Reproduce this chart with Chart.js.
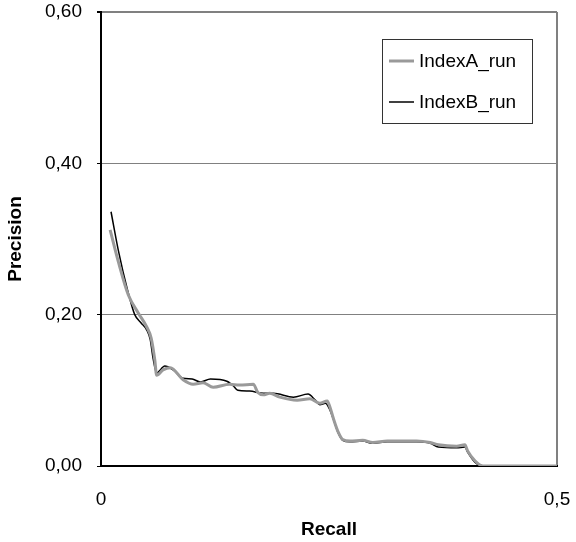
<!DOCTYPE html>
<html>
<head>
<meta charset="utf-8">
<script src="https://cdn.jsdelivr.net/npm/chart.js@4/dist/chart.umd.min.js"></script>
<style>
  html, body { margin: 0; padding: 0; background: #fff; }
  #wrap { width: 576px; height: 542px; }
</style>
</head>
<body>
<div id="wrap"><canvas id="prChart" width="576" height="542"></canvas></div>
<script>
// Precision/recall curves for the two runs
const seriesNames = ["IndexA_run", "IndexB_run"];

const recallA = [0.010, 0.019, 0.030, 0.041, 0.050, 0.055, 0.059, 0.061, 0.068, 0.076,
  0.090, 0.101, 0.112, 0.123, 0.141, 0.152, 0.167, 0.172, 0.178, 0.185, 0.196, 0.215,
  0.229, 0.240, 0.248, 0.251, 0.255, 0.260, 0.265, 0.273, 0.287, 0.298, 0.314, 0.328,
  0.346, 0.361, 0.370, 0.390, 0.399, 0.402, 0.410, 0.419, 0.440, 0.470, 0.500];
const precisionA = [0.312, 0.270, 0.226, 0.202, 0.184, 0.169, 0.140, 0.120, 0.127, 0.130,
  0.114, 0.108, 0.110, 0.104, 0.108, 0.107, 0.108, 0.097, 0.094, 0.096, 0.091, 0.087,
  0.089, 0.083, 0.086, 0.078, 0.062, 0.045, 0.035, 0.033, 0.034, 0.031, 0.033, 0.033,
  0.033, 0.031, 0.028, 0.026, 0.028, 0.020, 0.007, 0.000, 0.000, 0.000, 0.000];

const recallB = [0.011, 0.019, 0.029, 0.037, 0.044, 0.050, 0.054, 0.057, 0.061, 0.070,
  0.079, 0.090, 0.100, 0.109, 0.120, 0.138, 0.145, 0.150, 0.163, 0.178, 0.189, 0.211,
  0.227, 0.235, 0.240, 0.246, 0.251, 0.255, 0.260, 0.265, 0.273, 0.287, 0.298, 0.314,
  0.328, 0.346, 0.361, 0.370, 0.390, 0.399, 0.402, 0.410, 0.419, 0.440, 0.470, 0.500];
const precisionB = [0.336, 0.285, 0.233, 0.200, 0.189, 0.180, 0.167, 0.143, 0.123, 0.132,
  0.127, 0.116, 0.115, 0.111, 0.115, 0.112, 0.106, 0.100, 0.099, 0.096, 0.096, 0.091,
  0.095, 0.087, 0.081, 0.083, 0.074, 0.061, 0.044, 0.034, 0.032, 0.033, 0.030, 0.032,
  0.032, 0.032, 0.030, 0.025, 0.024, 0.025, 0.0185, 0.005, 0.000, 0.000, 0.000, 0.000];

const yTicks = [0, 0.2, 0.4, 0.6];
const xTicks = [0, 0.5];

const FONT = "'Liberation Sans', Arial, sans-serif";

function toPoints(xs, ys) {
  return xs.map((x, i) => ({ x: x, y: ys[i] }));
}

// legend drawn as a framed box inside the plot area
const boxLegend = {
  id: "boxLegend",
  afterDraw(chart) {
    const ctx = chart.ctx;
    const area = chart.chartArea;
    const left = area.right - 175;
    const top = area.top + 27;
    const w = 150, h = 84;
    ctx.save();
    ctx.fillStyle = "#fff";
    ctx.fillRect(left, top, w, h);
    ctx.strokeStyle = "#333";
    ctx.lineWidth = 1;
    ctx.strokeRect(left + 0.5, top + 0.5, w, h);
    ctx.font = "19px " + FONT;
    ctx.textBaseline = "middle";
    ctx.textAlign = "left";
    chart.data.datasets.forEach((ds, i) => {
      const y = top + 22 + i * 41;
      ctx.strokeStyle = ds.borderColor;
      ctx.lineWidth = ds.borderWidth;
      ctx.beginPath();
      ctx.moveTo(left + 7, y);
      ctx.lineTo(left + 32, y);
      ctx.stroke();
      ctx.fillStyle = "#000";
      ctx.fillText(ds.label, left + 37, y + 1);
    });
    ctx.restore();
  }
};

function fmtComma(v, digits) {
  return v.toFixed(digits).replace(".", ",");
}

new Chart(document.getElementById("prChart").getContext("2d"), {
  type: "line",
  data: {
    datasets: [
      {
        label: seriesNames[0],
        data: toPoints(recallA, precisionA),
        borderColor: "#9a9a9a",
        borderWidth: 3,
        pointRadius: 0,
        cubicInterpolationMode: "monotone",
        fill: false,
      },
      {
        label: seriesNames[1],
        data: toPoints(recallB, precisionB),
        borderColor: "#000",
        borderWidth: 1.5,
        pointRadius: 0,
        cubicInterpolationMode: "monotone",
        fill: false,
      },
    ],
  },
  options: {
    responsive: false,
    animation: false,
    events: [],
    layout: { padding: { top: 12, right: 19, left: 0, bottom: 0 } },
    plugins: {
      legend: { display: false },
      tooltip: { enabled: false },
    },
    scales: {
      x: {
        type: "linear",
        min: 0,
        max: 0.5,
        afterBuildTicks: (s) => { s.ticks = xTicks.map((v) => ({ value: v })); },
        afterFit: (s) => {
          s.height = 76;
          s.paddingLeft = 0;
          s.paddingRight = 0;
        },
        ticks: {
          color: "#000",
          font: { family: FONT, size: 19 },
          padding: 22,
          maxRotation: 0,
          callback: (v) => (v === 0 ? "0" : fmtComma(v, 1)),
        },
        grid: {
          drawTicks: false,
          color: (c) => (c.tick && c.tick.value === 0.5 ? "#808080" : "rgba(0,0,0,0)"),
          lineWidth: 2,
        },
        border: { color: "#000", width: 2 },
        title: {
          display: true,
          text: "Recall",
          color: "#000",
          font: { family: FONT, size: 19, weight: "bold" },
          padding: { top: 0, bottom: 1 },
        },
      },
      y: {
        type: "linear",
        min: 0,
        max: 0.6,
        afterBuildTicks: (s) => { s.ticks = yTicks.map((v) => ({ value: v })); },
        afterFit: (s) => {
          s.width = 101;
          s.paddingTop = 0;
          s.paddingBottom = 0;
        },
        ticks: {
          color: "#000",
          font: { family: FONT, size: 19 },
          padding: 15,
          callback: (v) => fmtComma(v, 2),
        },
        grid: {
          color: (c) => (c.tick && c.tick.value === 0 ? "rgba(0,0,0,0)" : "#808080"),
          tickColor: "#000",
          tickLength: 4,
          // top edge of the frame is a little heavier than the inner grid
          lineWidth: (c) => (c.tick && c.tick.value === 0.6 ? 2 : 1),
        },
        border: { color: "#000", width: 2 },
        title: {
          display: true,
          text: "Precision",
          color: "#000",
          font: { family: FONT, size: 19, weight: "bold" },
          padding: { top: 4, bottom: 4 },
        },
      },
    },
  },
  plugins: [boxLegend],
});
</script>
</body>
</html>
